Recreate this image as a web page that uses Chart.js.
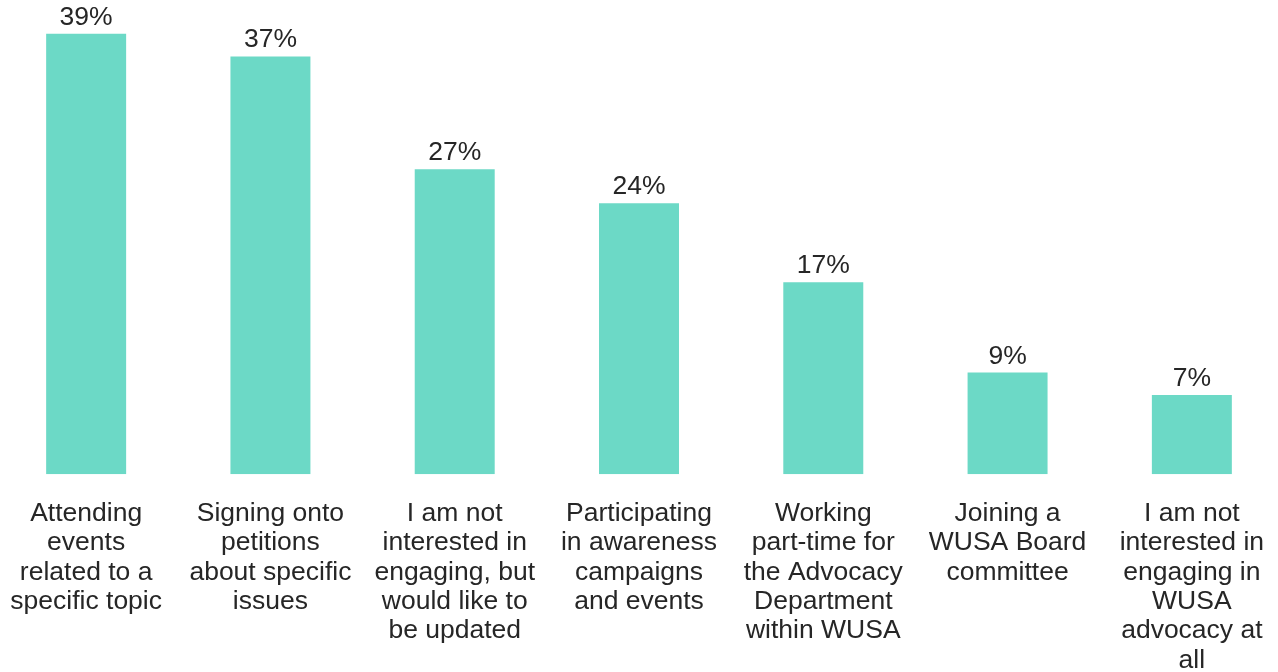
<!DOCTYPE html>
<html>
<head>
<meta charset="utf-8">
<title>Advocacy engagement</title>
<script src="https://cdn.jsdelivr.net/npm/chart.js@4.4.1/dist/chart.umd.min.js"></script>
<style>
	html, body { margin: 0; padding: 0; background: #fff; overflow: hidden; }
	#wrap { position: relative; width: 1278px; height: 672px; overflow: hidden; }
	#box { position: absolute; left: -6px; top: 0; width: 1290px; height: 675px; }
</style>
</head>
<body>
<div id="wrap"><div id="box"><canvas id="chart"></canvas></div></div>
<script>
// ── Data ──────────────────────────────────────────────────────────────────
var categories = [
	[ 'Attending', 'events', 'related to a', 'specific topic' ],
	[ 'Signing onto', 'petitions', 'about specific', 'issues' ],
	[ 'I am not', 'interested in', 'engaging, but', 'would like to', 'be updated' ],
	[ 'Participating', 'in awareness', 'campaigns', 'and events' ],
	[ 'Working', 'part-time for', 'the Advocacy', 'Department', 'within WUSA' ],
	[ 'Joining a', 'WUSA Board', 'committee' ],
	[ 'I am not', 'interested in', 'engaging in', 'WUSA', 'advocacy at', 'all' ]
];
var percentages = [ 39, 37, 27, 24, 17, 9, 7 ];
var yMax        = 42;

( function () {
	'use strict';

	var TEXT_COLOR = '#262626';
	var FONT       = '"Liberation Sans", Arial, sans-serif';

	// Percent labels sitting on top of each bar.
	var valueLabels = {
		id : 'valueLabels',
		afterDatasetsDraw : function ( chart ) {
			var ctx  = chart.ctx;
			var meta = chart.getDatasetMeta( 0 );
			ctx.save();
			ctx.font         = '26.5px ' + FONT;
			ctx.fillStyle    = TEXT_COLOR;
			ctx.textAlign    = 'center';
			ctx.textBaseline = 'alphabetic';
			meta.data.forEach( function ( bar, i ) {
				ctx.fillText( percentages[ i ] + '%', bar.x, bar.y - 9 );
			} );
			ctx.restore();
		}
	};

	new Chart( document.getElementById( 'chart' ), {
		type : 'bar',
		data : {
			labels   : categories,
			datasets : [ {
				data               : percentages,
				backgroundColor    : '#6cd9c6',
				borderWidth        : 0,
				barPercentage      : 0.434,
				categoryPercentage : 1
			} ]
		},
		options : {
			responsive          : true,
			maintainAspectRatio : false,
			animation           : false,
			layout              : { padding: 0 },
			plugins             : {
				legend  : { display: false },
				tooltip : { enabled: false }
			},
			scales : {
				x : {
					border : { display: false },
					// invisible tick marks push the labels down from the baseline
					grid   : { display: true, drawOnChartArea: false, drawTicks: true, tickLength: 25, color: 'rgba(0,0,0,0)' },
					ticks  : {
						padding     : 0,
						autoSkip    : false,
						maxRotation : 0,
						minRotation : 0,
						color       : TEXT_COLOR,
						font        : { family: FONT, size: 26.5, lineHeight: 1.106 }
					}
				},
				y : {
					display : false,
					min     : 0,
					max     : yMax
				}
			}
		},
		plugins : [ valueLabels ]
	} );
}() );
</script>
</body>
</html>
